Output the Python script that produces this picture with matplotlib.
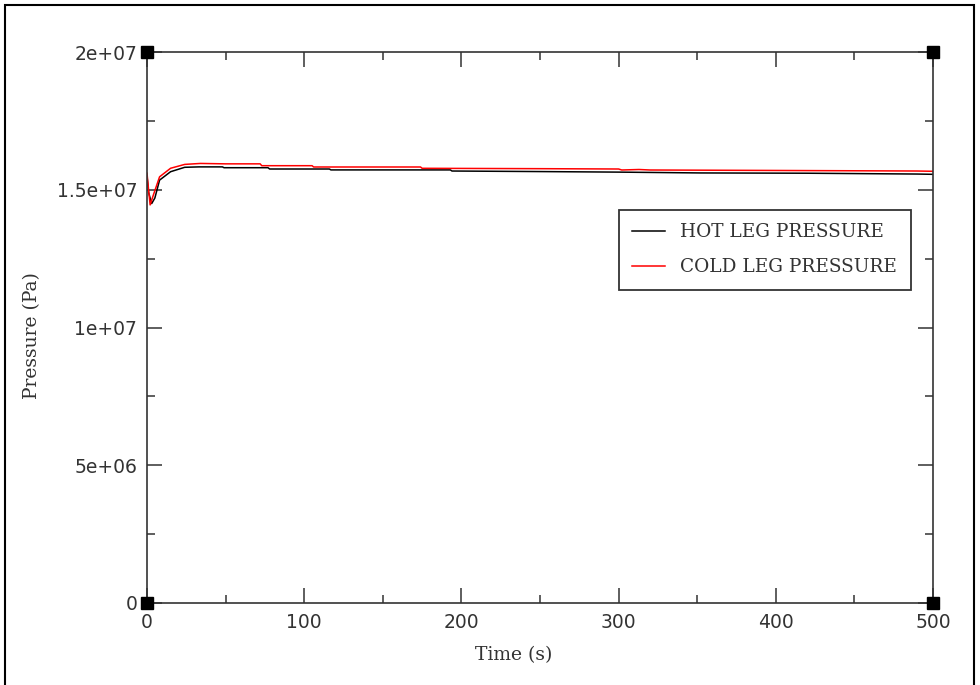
import matplotlib
matplotlib.use("Agg")
import matplotlib.pyplot as plt
import matplotlib.patches as patches
from matplotlib.ticker import MultipleLocator, FuncFormatter

# time (s) and pressure (Pa)
t_hot = [0, 1, 3, 5, 8, 15, 24, 33, 48, 49, 77, 78, 116, 117, 193, 194, 250, 300, 352, 420, 490, 500]
p_hot = [1.55e7, 1.49e7, 1.45e7, 1.47e7, 1.535e7, 1.5655e7, 1.5815e7, 1.583e7, 1.583e7, 1.580e7,
         1.580e7, 1.5753e7, 1.5753e7, 1.572e7, 1.572e7, 1.568e7, 1.566e7, 1.564e7, 1.561e7,
         1.560e7, 1.557e7, 1.556e7]

t_cold = [0, 1, 2, 4, 8, 15, 24, 34, 50, 72, 73, 105, 106, 174, 175, 250, 300, 302, 313, 320, 400, 490, 500]
p_cold = [1.56e7, 1.50e7, 1.445e7, 1.48e7, 1.547e7, 1.578e7, 1.592e7, 1.5955e7, 1.594e7, 1.594e7,
          1.5873e7, 1.5873e7, 1.5826e7, 1.5826e7, 1.5779e7, 1.5765e7, 1.5753e7, 1.5717e7,
          1.5735e7, 1.5717e7, 1.570e7, 1.568e7, 1.567e7]

labels = ["HOT LEG PRESSURE", "COLD LEG PRESSURE"]

fig = plt.figure(figsize=(9.8, 6.85), dpi=100)
ax = fig.add_axes([147/980, 1-603/685, 786/980, 551/685])

ax.plot(t_hot, p_hot, color="black", lw=1.1, label=labels[0])
ax.plot(t_cold, p_cold, color="red", lw=1.1, label=labels[1])

ax.set_xlim(0, 500)
ax.set_ylim(0, 2e7)
ax.xaxis.set_major_locator(MultipleLocator(100))
ax.xaxis.set_minor_locator(MultipleLocator(50))
ax.yaxis.set_major_locator(MultipleLocator(5e6))
ax.yaxis.set_minor_locator(MultipleLocator(2.5e6))
ax.yaxis.set_major_formatter(FuncFormatter(lambda v, p: "%g" % v))
ax.xaxis.set_major_formatter(FuncFormatter(lambda v, p: "%g" % v))

ax.tick_params(which="both", direction="in", top=True, right=True, color="#333333", width=1.1)
ax.tick_params(which="major", length=11, labelsize=13.5, pad=7, labelcolor="#333333")
ax.tick_params(which="minor", length=6)
for s in ax.spines.values():
    s.set_color("#333333")
    s.set_linewidth(1.2)

# corner squares
ax.plot([0, 1, 0, 1], [0, 0, 1, 1], "s", color="black", ms=8.5,
        transform=ax.transAxes, clip_on=False, zorder=5)

ax.set_xlabel("Time (s)", family="DejaVu Serif", fontsize=13.5, color="#333333")
ax.set_ylabel("Pressure (Pa)", family="DejaVu Serif", fontsize=13.5, color="#333333")
ax.xaxis.set_label_coords(0.467, -0.094)
ax.yaxis.set_label_coords(-0.146, 0.485)
ax.xaxis.label.set_va("center")
ax.yaxis.label.set_va("center")

leg = ax.legend(loc="upper left", bbox_to_anchor=(619/980, 1-210/685), bbox_transform=fig.transFigure,
                prop={"family": "DejaVu Serif", "size": 13.3}, frameon=True, fancybox=False,
                handlelength=1.75, handletextpad=0.85, labelspacing=0.92, borderpad=0.72,
                borderaxespad=0)
leg.get_frame().set_edgecolor("#333333")
leg.get_frame().set_linewidth(1.3)
leg.get_frame().set_alpha(1)
for txt in leg.get_texts():
    txt.set_color("#333333")

# outer border
fig.patches.append(patches.Rectangle((5/980, -0.05), 969/980, 1.05 - 5/685, transform=fig.transFigure,
                                     fill=False, edgecolor="black", lw=1.5))

fig.savefig("out.png", dpi=100)
